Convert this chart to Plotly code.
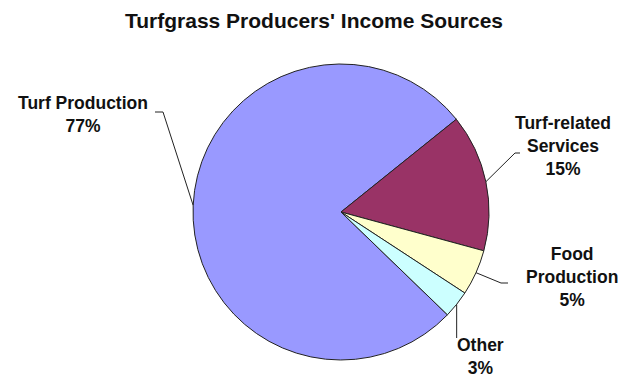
import math
import plotly.graph_objects as go

# ---- data ----
categories = ["Turf Production", "Turf-related<br>Services", "Food<br>Production", "Other"]
values = [77, 15, 5, 3]
colors = ["#9999FF", "#993366", "#FFFFCC", "#CCFFFF"]
title_text = "Turfgrass Producers' Income Sources"

# ---- layout / styling ----
W, H = 623, 379
CX, CY, R = 341, 212, 148          # pie centre / radius in pixels
ROTATION = 134                     # start angle of first slice (deg clockwise from 12 o'clock)
FONT = "Arial, Liberation Sans, sans-serif"

# label centres (pixels) and leader elbows (pixels)
label_pos = [(83, 114), (563, 146), (572, 277), (480, 356)]
elbows = [[(163, 112), (155, 112)],
          [(515, 153), (520, 153)],
          [(501, 283), (508, 283)],
          [None, None]]
other_line_end_y = 338


def px(x):
    return x / W


def py(y):
    return 1 - y / H


fig = go.Figure(go.Pie(
    labels=categories,
    values=values,
    sort=False,
    direction="clockwise",
    rotation=ROTATION,
    marker=dict(colors=colors, line=dict(color="#222222", width=1)),
    textinfo="none",
    hoverinfo="label+percent",
    showlegend=False,
    domain=dict(x=[px(CX - R), px(CX + R)], y=[py(CY + R), py(CY - R)]),
))

total = sum(values)
start = 90 - ROTATION  # math angle (deg, ccw from +x)
shapes = []
annotations = []
for i, (cat, v) in enumerate(zip(categories, values)):
    span = v / total * 360
    mid = start - span / 2
    start -= span
    ex = CX + R * math.cos(math.radians(mid))
    ey = CY - R * math.sin(math.radians(mid))
    pct = round(v / total * 100)
    lx, ly = label_pos[i]
    annotations.append(dict(
        x=px(lx), y=py(ly), xref="paper", yref="paper",
        text=f"<b>{cat}<br>{pct}%</b>", showarrow=False,
        xanchor="center", yanchor="middle", align="center",
        font=dict(family=FONT, size=17.5, color="#111111"),
    ))
    if elbows[i][0] is not None:
        (x1, y1), (x2, y2) = elbows[i]
        path = f"M {px(ex)},{py(ey)} L {px(x1)},{py(y1)} L {px(x2)},{py(y2)}"
    else:
        path = f"M {px(ex)},{py(ey)} L {px(ex)},{py(other_line_end_y)}"
    shapes.append(dict(type="path", xref="paper", yref="paper", path=path,
                       line=dict(color="#222222", width=1)))

fig.update_layout(
    width=W, height=H,
    margin=dict(l=0, r=0, t=0, b=0),
    paper_bgcolor="white", plot_bgcolor="white",
    title=dict(text=f"<b>{title_text}</b>", x=314 / W, xanchor="center",
               y=1 - 21 / H, yanchor="middle", yref="container",
               font=dict(family=FONT, size=21, color="#111111")),
    annotations=annotations,
    shapes=shapes,
)

fig.write_html("out.html")
